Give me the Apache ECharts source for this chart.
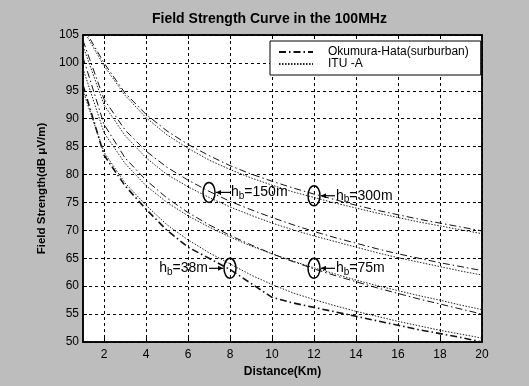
<!DOCTYPE html>
<html>
<head>
<meta charset="utf-8">
<script src="https://cdn.jsdelivr.net/npm/echarts@6/dist/echarts.min.js"></script>
<style>
  html, body { margin: 0; padding: 0; }
  #chart { width: 529px; height: 386px; }
</style>
</head>
<body>
<div id="chart"></div>
<script>
// distance in km
const distance = [1, 2, 3, 4, 5, 6, 7, 8, 9, 10, 11, 12, 13, 14, 15, 16, 17, 18, 19, 20];
const xTicks = [2, 4, 6, 8, 10, 12, 14, 16, 18, 20];

// field strength (dB uV/m)
const ohH300  = [106.5, 100, 94.6, 90.8, 87.8, 85.4, 83.4, 81.6, 80.1, 78.8, 77.6, 76.5, 75.5, 74.5, 73.6, 72.8, 72.0, 71.3, 70.6, 69.9];
const ituH300 = [106, 99.5, 94.2, 90.2, 87.1, 84.7, 82.6, 80.9, 79.4, 78.1, 76.9, 75.9, 74.9, 74.0, 73.1, 72.3, 71.5, 70.8, 70.1, 69.4];
const ohH150  = [104, 93.5, 88, 84.2, 81.3, 79, 77, 75.2, 73.7, 72.3, 71, 69.8, 68.7, 67.7, 66.7, 65.8, 65, 64.2, 63.5, 62.8];
const ituH150 = [103, 92.5, 87, 83, 80, 77.8, 75.9, 74.2, 72.7, 71.3, 70.1, 69, 68, 67, 66, 65.1, 64.3, 63.5, 62.7, 62];
const ohH75   = [101, 89, 83, 79, 75.8, 73.2, 71, 69.1, 67.4, 65.8, 64.4, 63.1, 61.9, 60.8, 59.7, 58.7, 57.7, 56.8, 55.9, 55.0];
const ituH75  = [99, 87.5, 82, 78, 75, 72.6, 70.6, 68.8, 67.2, 65.8, 64.5, 63.3, 62.2, 61.1, 60.1, 59.2, 58.3, 57.5, 56.6, 55.8];
const ohH38   = [96, 83.5, 78, 73.8, 70, 67, 65, 63, 60.5, 58, 57, 56.2, 55.4, 54.6, 53.8, 53, 52.2, 51.5, 50.8, 50];
const ituH38  = [95, 84, 78.5, 74.5, 71, 68.3, 66, 64, 62, 60.3, 58.8, 57.6, 56.5, 55.5, 54.6, 53.7, 52.9, 52.1, 51.4, 50.7];

const ohName = 'Okumura-Hata(surburban)';
const ituName = 'ITU -A';

// callouts: circled point and base-station height
const callouts = [
  {x: 7, y: 76.8, height: '150m', side: 'right'},
  {x: 12, y: 76.2, height: '300m', side: 'right'},
  {x: 12, y: 63.2, height: '75m', side: 'right'},
  {x: 8, y: 63.2, height: '38m', side: 'left'}
];

const font = 'Liberation Sans, Arial, sans-serif';

function pairs(ys) {
  return distance.map((d, i) => [d, ys[i]]);
}

function ohSeries(ys, width) {
  return {
    name: ohName, type: 'line', data: pairs(ys), symbol: 'none',
    itemStyle: {color: '#111'},
    lineStyle: {color: '#111', width: width || 1, type: [7, 3, 1.5, 3]}
  };
}
function ituSeries(ys) {
  return {
    name: ituName, type: 'line', data: pairs(ys), symbol: 'none',
    itemStyle: {color: '#222'},
    lineStyle: {color: '#222', width: 1, type: [1.5, 1.5]}
  };
}

const chart = echarts.init(document.getElementById('chart'), null, {renderer: 'canvas'});

const gridLine = {show: true, lineStyle: {color: '#000', width: 1, type: [3, 3]}};

chart.setOption({
  backgroundColor: '#bdbdbd',
  animation: false,
  title: {
    text: 'Field Strength Curve in the 100MHz',
    left: 147, top: 7,
    textStyle: {fontFamily: font, fontSize: 14, fontWeight: 'bold', color: '#000'}
  },
  legend: {
    data: [ohName, ituName],
    orient: 'vertical',
    left: 270, top: 41,
    padding: [5, 12, 5, 8],
    itemGap: 0,
    itemWidth: 34, itemHeight: 13,
    backgroundColor: '#fff',
    borderColor: '#000', borderWidth: 1,
    itemStyle: {opacity: 0},
    textStyle: {fontFamily: font, fontSize: 12, color: '#000', padding: [0, 0, 0, 10]}
  },
  grid: {left: 83, top: 35, right: 47, bottom: 44, show: true, backgroundColor: '#fff', borderColor: '#000', borderWidth: 1.5},
  xAxis: [{
    type: 'value', min: 1, max: 20,
    name: 'Distance(Km)', nameLocation: 'middle', nameGap: 22,
    nameTextStyle: {fontFamily: font, fontSize: 12, fontWeight: 'bold', color: '#000'},
    axisLine: {lineStyle: {color: '#000', width: 1.5}},
    axisTick: {inside: true, length: 4, customValues: xTicks, lineStyle: {color: '#000'}},
    axisLabel: {customValues: xTicks, fontFamily: font, fontSize: 12, color: '#000', margin: 7},
    splitLine: gridLine
  }, {
    type: 'value', min: 1, max: 20, position: 'top',
    axisLine: {lineStyle: {color: '#000', width: 1.5}},
    axisTick: {inside: true, length: 4, customValues: xTicks, lineStyle: {color: '#000'}},
    axisLabel: {show: false},
    splitLine: {show: false}
  }],
  yAxis: [{
    type: 'value', min: 50, max: 105, interval: 5,
    name: 'Field Strength(dB \u03bcV/m)', nameLocation: 'middle', nameGap: 30,
    nameTextStyle: {fontFamily: font, fontSize: 11.5, fontWeight: 'bold', color: '#000'},
    axisLine: {show: true, lineStyle: {color: '#000', width: 1.5}},
    axisTick: {show: true, inside: true, length: 4, lineStyle: {color: '#000'}},
    axisLabel: {fontFamily: font, fontSize: 12, color: '#000', margin: 4},
    splitLine: gridLine
  }, {
    type: 'value', min: 50, max: 105, interval: 5, position: 'right',
    axisLine: {show: true, lineStyle: {color: '#000', width: 1.5}},
    axisTick: {show: true, inside: true, length: 4, lineStyle: {color: '#000'}},
    axisLabel: {show: false},
    splitLine: {show: false}
  }],
  series: [
    ohSeries(ohH300), ituSeries(ituH300),
    ohSeries(ohH150), ituSeries(ituH150),
    ohSeries(ohH75), ituSeries(ituH75),
    ohSeries(ohH38, 1.6), ituSeries(ituH38)
  ]
});

// callout ellipses, arrows and labels placed through the axis scales
const graphics = [];
const rich = {
  h: {fontFamily: font, fontSize: 14, color: '#000'},
  b: {fontFamily: font, fontSize: 10, color: '#000', padding: [7, 0, 0, 0]}
};
callouts.forEach(c => {
  const [px, py] = chart.convertToPixel({gridIndex: 0}, [c.x, c.y]);
  const rx = 6, ry = 10;
  graphics.push({type: 'ellipse', shape: {cx: px, cy: py, rx: rx, ry: ry}, style: {fill: 'none', stroke: '#000', lineWidth: 1.5}, z: 100});
  const dir = c.side === 'right' ? 1 : -1;
  const tip = px + dir * (rx + 1);
  const tail = px + dir * (rx + 15);
  graphics.push({type: 'line', shape: {x1: tail, y1: py, x2: tip, y2: py}, style: {stroke: '#000', lineWidth: 1.2}, z: 100});
  graphics.push({type: 'polygon', shape: {points: [[tip, py], [tip + dir * 5, py - 2.5], [tip + dir * 5, py + 2.5]]}, style: {fill: '#000'}, z: 100});
  graphics.push({
    type: 'text', z: 100,
    x: tail + dir * 1, y: py,
    style: {
      text: '{h|h}{b|b}{h|=' + c.height + '}',
      rich: rich,
      align: c.side === 'right' ? 'left' : 'right',
      verticalAlign: 'middle'
    }
  });
});
chart.setOption({graphic: graphics});
</script>
</body>
</html>
